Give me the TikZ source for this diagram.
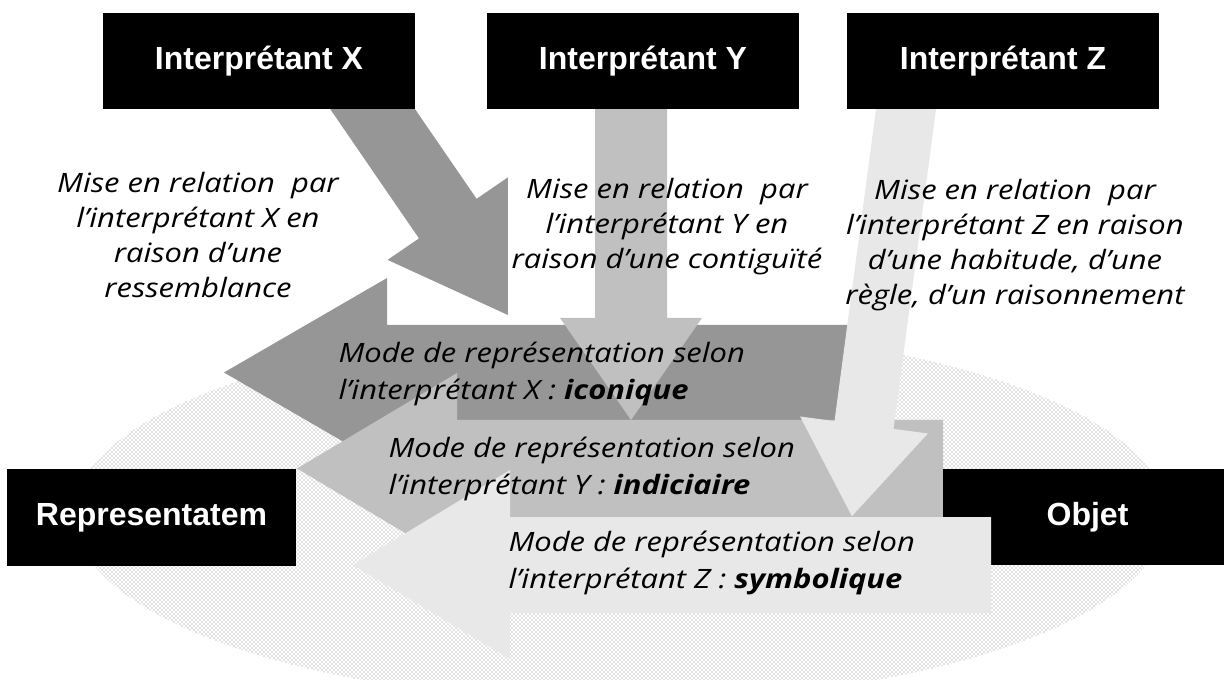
\documentclass[tikz,border=0pt]{standalone}
\usepackage{fontspec}
\newfontfamily\labelfont{Liberation Sans}
\newfontfamily\notefont[FakeStretch=1.16]{Open Sans}
\usetikzlibrary{patterns}
\definecolor{darkarrow}{RGB}{150,150,150}
\definecolor{midarrow}{RGB}{192,192,192}
\definecolor{lightarrow}{RGB}{232,232,232}
\definecolor{dotgray}{RGB}{130,130,130}
\tikzset{every picture/.style={line width=0.75pt}}
\tikzset{
	interp/.style={fill=black, text=white, inner sep=0pt,
		minimum width=234pt, minimum height=72pt,
		font=\labelfont\bfseries\fontsize{24}{28}\selectfont},
	relnote/.style={align=center, inner sep=0pt,
		font=\notefont\itshape\fontsize{20}{26.25}\selectfont},
	modenote/.style={align=left, anchor=west, inner sep=0pt,
		font=\notefont\itshape\fontsize{20}{27.75}\selectfont}}

\begin{document}
\begin{tikzpicture}[x=0.75pt,y=0.75pt,yscale=-1,xscale=1]
	\useasboundingbox (0,0) rectangle (1224,680);

	%Shape: Ellipse
	\fill [pattern=crosshatch dots, pattern color=dotgray] (620,515) ellipse (546 and 187);

	%Shape: Left Arrow (iconique)
	\fill [darkarrow] (865,325) -- (387,325) -- (387,278) -- (224,372.5) -- (387,467) -- (387,420) -- (865,420) -- cycle;
	%Shape: Left Arrow (indiciaire)
	\fill [midarrow] (943,420) -- (457,420) -- (457,373) -- (297,468.5) -- (457,564) -- (457,517) -- (943,517) -- cycle;

	% Boxes of the bottom row
	\node [interp, minimum width=216.75pt, minimum height=72.75pt] (repr) at (151.5,517.5) {Representatem};
	\node [interp, minimum width=216.75pt] (objet) at (1087.5,517) {Objet};

	%Shape: Left Arrow (symbolique)
	\fill [lightarrow] (991,517) -- (510,517) -- (510,470) -- (353,565) -- (510,659) -- (510,613) -- (991,613) -- cycle;

	%Shape: Arrow from X
	\fill [darkarrow] (321.1,95.8) -- (419,238.4) -- (387.6,259.9) -- (516.9,319.1) -- (508,177.3) -- (476.6,198.8) -- (378.7,56.2) -- cycle;
	%Shape: Rectangle (ground of the Y note)
	\fill [white] (508,150) rectangle (830,322);
	%Shape: Arrow from Y
	\fill [midarrow] (595,100) -- (595,318) -- (560,318) -- (631,420) -- (702,318) -- (667,318) -- (667,100) -- cycle;
	%Shape: Arrow from Z
	\fill [lightarrow] (880.5,75.4) -- (834.5,421.1) -- (800.1,416.5) -- (851.9,516.2) -- (927.9,433.5) -- (893.5,428.9) -- (939.5,83.2) -- cycle;

	% Boxes of the top row
	\node [interp] (intX) at (259,61) {Interprétant X};
	\node [interp] (intY) at (643,61) {Interprétant Y};
	\node [interp] (intZ) at (1003,61) {Interprétant Z};

	% Text Node
	\node [relnote] (relX) at (198,235) {Mise en relation\ \ par\\ l’interprétant X en\\ raison d’une\\ ressemblance};
	% Text Node
	\node [relnote] (relY) at (667,227) {Mise en relation\ \ par\\ l’interprétant Y en\\ raison d’une contiguïté};
	% Text Node
	\node [relnote] (relZ) at (1015,245) {Mise en relation\ \ par\\ l’interprétant Z en raison\\ d’une habitude, d’une\\ règle, d’un raisonnement};

	% Text Node
	\node [modenote] (modeX) at (338,374) {Mode de représentation selon\\ l’interprétant X : \textbf{iconique}};
	% Text Node
	\node [modenote] (modeY) at (388,469) {Mode de représentation selon\\ l’interprétant Y : \textbf{indiciaire}};
	% Text Node
	\node [modenote] (modeZ) at (508,563) {Mode de représentation selon\\ l’interprétant Z : \textbf{symbolique}};
\end{tikzpicture}
\end{document}
